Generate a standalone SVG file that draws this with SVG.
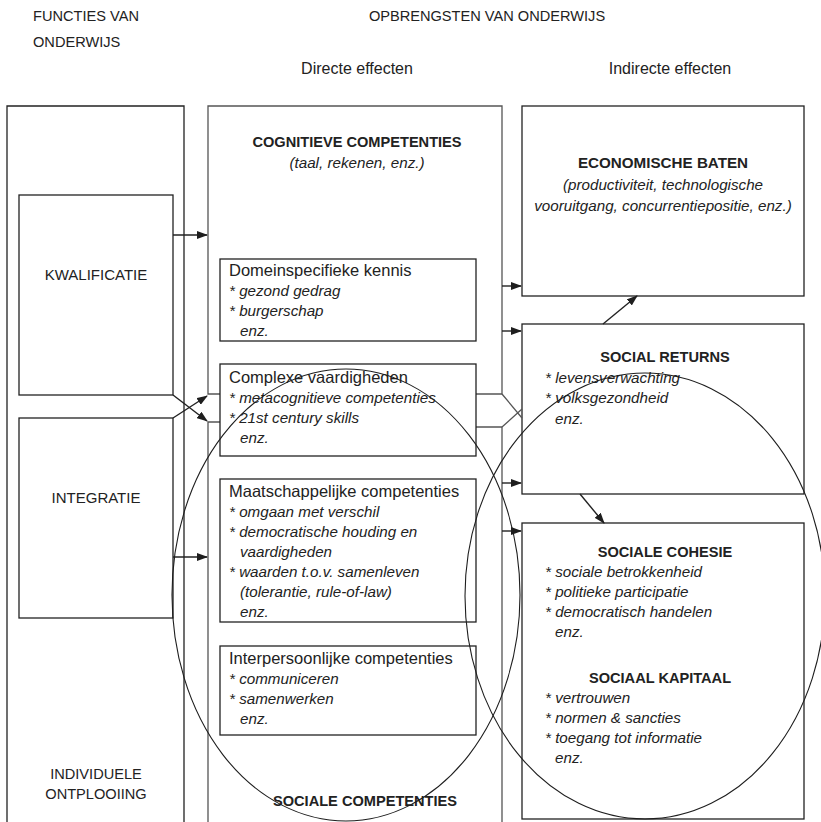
<svg xmlns="http://www.w3.org/2000/svg" width="821" height="822" viewBox="0 0 821 822">
<defs>
<marker id="ah" markerWidth="11" markerHeight="8" refX="10" refY="4" orient="auto" markerUnits="userSpaceOnUse"><path d="M0,0 L11,4 L0,8 z" fill="#1e1e1e"/></marker>
<style>
text{font-family:"Liberation Sans",Arial,sans-serif;fill:#222}
.h{font-size:14.6px}
.t{font-size:16.5px}
.i{font-size:15.2px;font-style:italic}
.b{font-size:14.6px;font-weight:bold}
.c{text-anchor:middle}
.box{fill:none;stroke:#222;stroke-width:1.3}
.col{fill:none;stroke:#555;stroke-width:1.3}
.con{fill:none;stroke:#222;stroke-width:1.4}
.ell{fill:none;stroke:#1e1e1e;stroke-width:1.1}
</style>
</defs>
<rect width="821" height="822" fill="#fff"/>
<g id="headers">
<text class="h" x="33" y="21">FUNCTIES VAN</text>
<text class="h" x="33" y="47">ONDERWIJS</text>
<text class="h c" x="487" y="21">OPBRENGSTEN VAN ONDERWIJS</text>
<text class="h c" x="357" y="74" style="font-size:16px">Directe effecten</text>
<text class="h c" x="670" y="74" style="font-size:16px">Indirecte effecten</text>
</g>
<g id="functies">
<path class="box" d="M7,830 V106 H184 V830"/>
</g>
<g id="kwalificatie">
<rect class="box" x="19" y="195" width="154" height="200"/>
<text class="h c" x="96" y="280" style="font-size:15px">KWALIFICATIE</text>
</g>
<g id="integratie">
<rect class="box" x="19" y="418" width="154" height="200"/>
<text class="h c" x="96" y="503" style="font-size:15px">INTEGRATIE</text>
</g>
<g id="ontplooiing">
<text class="h c" x="96" y="779">INDIVIDUELE</text>
<text class="h c" x="96" y="799">ONTPLOOIING</text>
</g>
<g id="directe-effecten">
<path class="col" d="M208,830 V422 H220 M220,394 H208 V106 H502 V394 H476 M476,427 H502 V830"/>
<text class="b c" x="357" y="147">COGNITIEVE COMPETENTIES</text>
<text class="i c" x="357" y="168">(taal, rekenen, enz.)</text>
<text class="b c" x="365" y="806">SOCIALE COMPETENTIES</text>
</g>
<g id="domeinspecifiek">
<rect class="box" x="220" y="259" width="256" height="82"/>
<text class="t" x="229" y="276">Domeinspecifieke kennis</text>
<text class="i" x="229" y="296">* gezond gedrag</text>
<text class="i" x="229" y="316">* burgerschap</text>
<text class="i" x="240" y="336">enz.</text>
</g>
<g id="complexe">
<rect class="box" x="220" y="364" width="256" height="92"/>
<text class="t" x="229" y="383">Complexe vaardigheden</text>
<text class="i" x="229" y="403">* metacognitieve competenties</text>
<text class="i" x="229" y="423">* 21st century skills</text>
<text class="i" x="240" y="443">enz.</text>
</g>
<g id="maatschappelijk">
<rect class="box" x="220" y="479" width="256" height="143"/>
<text class="t" x="229" y="497">Maatschappelijke competenties</text>
<text class="i" x="229" y="517">* omgaan met verschil</text>
<text class="i" x="229" y="537">* democratische houding en</text>
<text class="i" x="240" y="557">vaardigheden</text>
<text class="i" x="229" y="577">* waarden t.o.v. samenleven</text>
<text class="i" x="240" y="597">(tolerantie, rule-of-law)</text>
<text class="i" x="240" y="617">enz.</text>
</g>
<g id="interpersoonlijk">
<rect class="box" x="220" y="646" width="256" height="89"/>
<text class="t" x="229" y="664">Interpersoonlijke competenties</text>
<text class="i" x="229" y="684">* communiceren</text>
<text class="i" x="229" y="704">* samenwerken</text>
<text class="i" x="240" y="724">enz.</text>
</g>
<g id="economisch">
<rect class="box" x="522" y="106" width="282" height="190"/>
<text class="b c" x="663" y="168" style="font-size:15.2px">ECONOMISCHE BATEN</text>
<text class="i c" x="663" y="190">(productiviteit, technologische</text>
<text class="i c" x="663" y="211">vooruitgang,  concurrentiepositie, enz.)</text>
</g>
<g id="social-returns">
<rect class="box" x="522" y="324" width="282" height="170"/>
<text class="b c" x="665" y="362">SOCIAL RETURNS</text>
<text class="i" x="545" y="383">* levensverwachting</text>
<text class="i" x="545" y="403">* volksgezondheid</text>
<text class="i" x="555" y="424">enz.</text>
</g>
<g id="sociale-cohesie">
<rect class="box" x="522" y="523" width="282" height="296"/>
<text class="b c" x="665" y="557">SOCIALE COHESIE</text>
<text class="i" x="545" y="577">* sociale betrokkenheid</text>
<text class="i" x="545" y="597">* politieke participatie</text>
<text class="i" x="545" y="617">* democratisch handelen</text>
<text class="i" x="555" y="637">enz.</text>
<text class="b c" x="660" y="683">SOCIAAL KAPITAAL</text>
<text class="i" x="545" y="703">* vertrouwen</text>
<text class="i" x="545" y="723">* normen &amp; sancties</text>
<text class="i" x="545" y="743">* toegang tot informatie</text>
<text class="i" x="555" y="763">enz.</text>
</g>
<g id="connectors">
<line class="con" x1="173" y1="235" x2="207" y2="235" marker-end="url(#ah)"/>
<line class="con" x1="173" y1="395" x2="207" y2="421" marker-end="url(#ah)"/>
<line class="con" x1="173" y1="418" x2="207" y2="396" marker-end="url(#ah)"/>
<line class="con" x1="173" y1="557" x2="207" y2="557" marker-end="url(#ah)"/>
<line class="con" x1="502" y1="286" x2="521" y2="286" marker-end="url(#ah)"/>
<line class="con" x1="502" y1="331" x2="521" y2="331" marker-end="url(#ah)"/>
<line class="con" x1="502" y1="483" x2="521" y2="483" marker-end="url(#ah)"/>
<line class="con" x1="502" y1="531" x2="521" y2="531" marker-end="url(#ah)"/>
<line class="con" x1="603" y1="324" x2="637" y2="296" marker-end="url(#ah)"/>
<line class="con" x1="580" y1="494" x2="604" y2="523" marker-end="url(#ah)"/>
<path class="col" d="M502,394 L522,418 M502,427 L522,409"/>
</g>
<g id="ellipses">
<ellipse class="ell" cx="346" cy="595" rx="174" ry="226"/>
<ellipse class="ell" cx="645" cy="596" rx="180" ry="223"/>
</g>
</svg>
